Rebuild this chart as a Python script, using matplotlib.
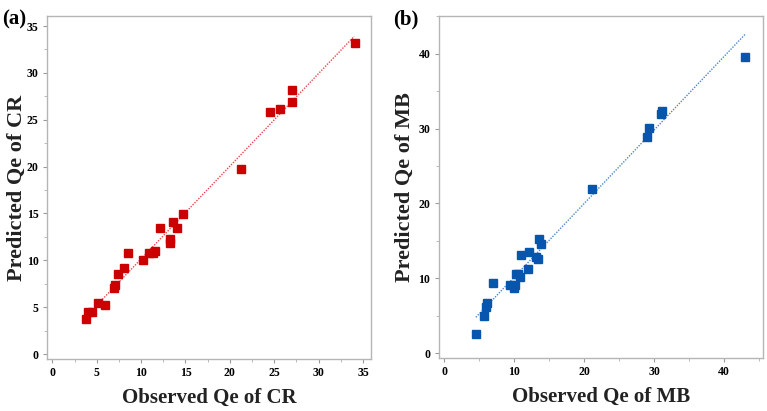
import matplotlib
matplotlib.use("Agg")
import matplotlib.pyplot as plt
from matplotlib.ticker import MultipleLocator

# ---- data panel (a): CR ----
cr_obs = [3.8, 4.05, 4.5, 5.1, 5.95, 6.9, 7.05, 7.35, 8.1, 8.55, 10.25, 10.9,
          11.35, 11.6, 12.1, 13.2, 13.3, 13.6, 14.05, 14.7, 21.25, 24.55,
          25.65, 26.95, 27.0, 34.05]
cr_pred = [3.7, 4.5, 4.5, 5.4, 5.2, 7.1, 7.35, 8.5, 9.2, 10.8, 10.0, 10.8,
           10.8, 11.0, 13.5, 12.25, 11.9, 14.05, 13.5, 14.95, 19.75, 25.85,
           26.15, 26.9, 28.2, 33.2]
cr_fit_x = [5.2, 34.0]
cr_fit_y = [5.4, 33.9]

# ---- data panel (b): MB ----
mb_obs = [4.5, 5.7, 6.0, 6.15, 7.05, 9.45, 10.05, 10.15, 10.3, 10.6, 10.85,
          11.05, 12.05, 12.15, 13.15, 13.35, 13.5, 13.8, 21.15, 28.95, 29.3,
          30.95, 31.15, 43.0]
mb_pred = [2.6, 4.95, 6.2, 6.65, 9.4, 9.1, 8.7, 9.1, 10.55, 10.55, 10.2,
           13.1, 11.3, 13.55, 12.8, 12.6, 15.25, 14.6, 21.95, 28.9, 30.1,
           32.0, 32.3, 39.6]
mb_fit_x = [4.55, 43.0]
mb_fit_y = [4.8, 42.6]

fig = plt.figure(figsize=(7.67, 4.11), dpi=100)
serif = ["Liberation Serif", "DejaVu Serif"]

panels = [
    dict(rect=[0.0613, 0.1265, 0.4224, 0.8345], x=cr_obs, y=cr_pred,
         fx=cr_fit_x, fy=cr_fit_y, mc="#cc0000", lc="#e8484a",
         xlim=(-0.6, 35.9), ylim=(-0.53, 36.07), major=5, minor=2.5,
         xlabel="Observed Qe of CR", ylabel="Predicted Qe of CR",
         tag="(a)", tagx=0.003, ylx=-0.092),
    dict(rect=[0.5720, 0.129, 0.4224, 0.832], x=mb_obs, y=mb_pred,
         fx=mb_fit_x, fy=mb_fit_y, mc="#0755ad", lc="#4a88d0",
         xlim=(-0.76, 45.5), ylim=(-0.63, 45.03), major=10, minor=5,
         xlabel="Observed Qe of MB", ylabel="Predicted Qe of MB",
         tag="(b)", tagx=0.513, ylx=-0.103),
]

for p in panels:
    ax = fig.add_axes(p["rect"])
    ax.plot(p["fx"], p["fy"], linestyle=(0, (1, 1)), color=p["lc"], lw=1.0,
            zorder=2)
    ax.plot(p["x"], p["y"], linestyle="none", marker="s", ms=6,
            color=p["mc"], markeredgecolor=p["mc"], zorder=3)
    ax.set_xlim(*p["xlim"])
    ax.set_ylim(*p["ylim"])
    for axis in (ax.xaxis, ax.yaxis):
        axis.set_major_locator(MultipleLocator(p["major"]))
        axis.set_minor_locator(MultipleLocator(p["minor"]))
    for s in ax.spines.values():
        s.set_color("#b5b5b5")
        s.set_linewidth(1.0)
    ax.tick_params(which="major", direction="out", length=3, width=0.8,
                   color="#9a9a9a", pad=3)
    ax.tick_params(which="minor", direction="out", length=2, width=0.6,
                   color="#b0b0b0")
    for lab in ax.get_xticklabels() + ax.get_yticklabels():
        lab.set_fontfamily(serif)
        lab.set_fontweight("bold")
        lab.set_fontsize(8.5)
    ax.set_xlabel(p["xlabel"], fontfamily=serif, fontweight="bold",
                  fontsize=15, labelpad=6, color="#222222")
    ax.set_ylabel(p["ylabel"], fontfamily=serif, fontweight="bold",
                  fontsize=16, color="#222222", va="center")
    ax.yaxis.set_label_coords(p["ylx"], 0.5)
    fig.text(p["tagx"], 0.978, p["tag"], fontfamily=serif, fontweight="bold",
             fontsize=15, va="top", ha="left")

fig.savefig("out.png", dpi=100)
